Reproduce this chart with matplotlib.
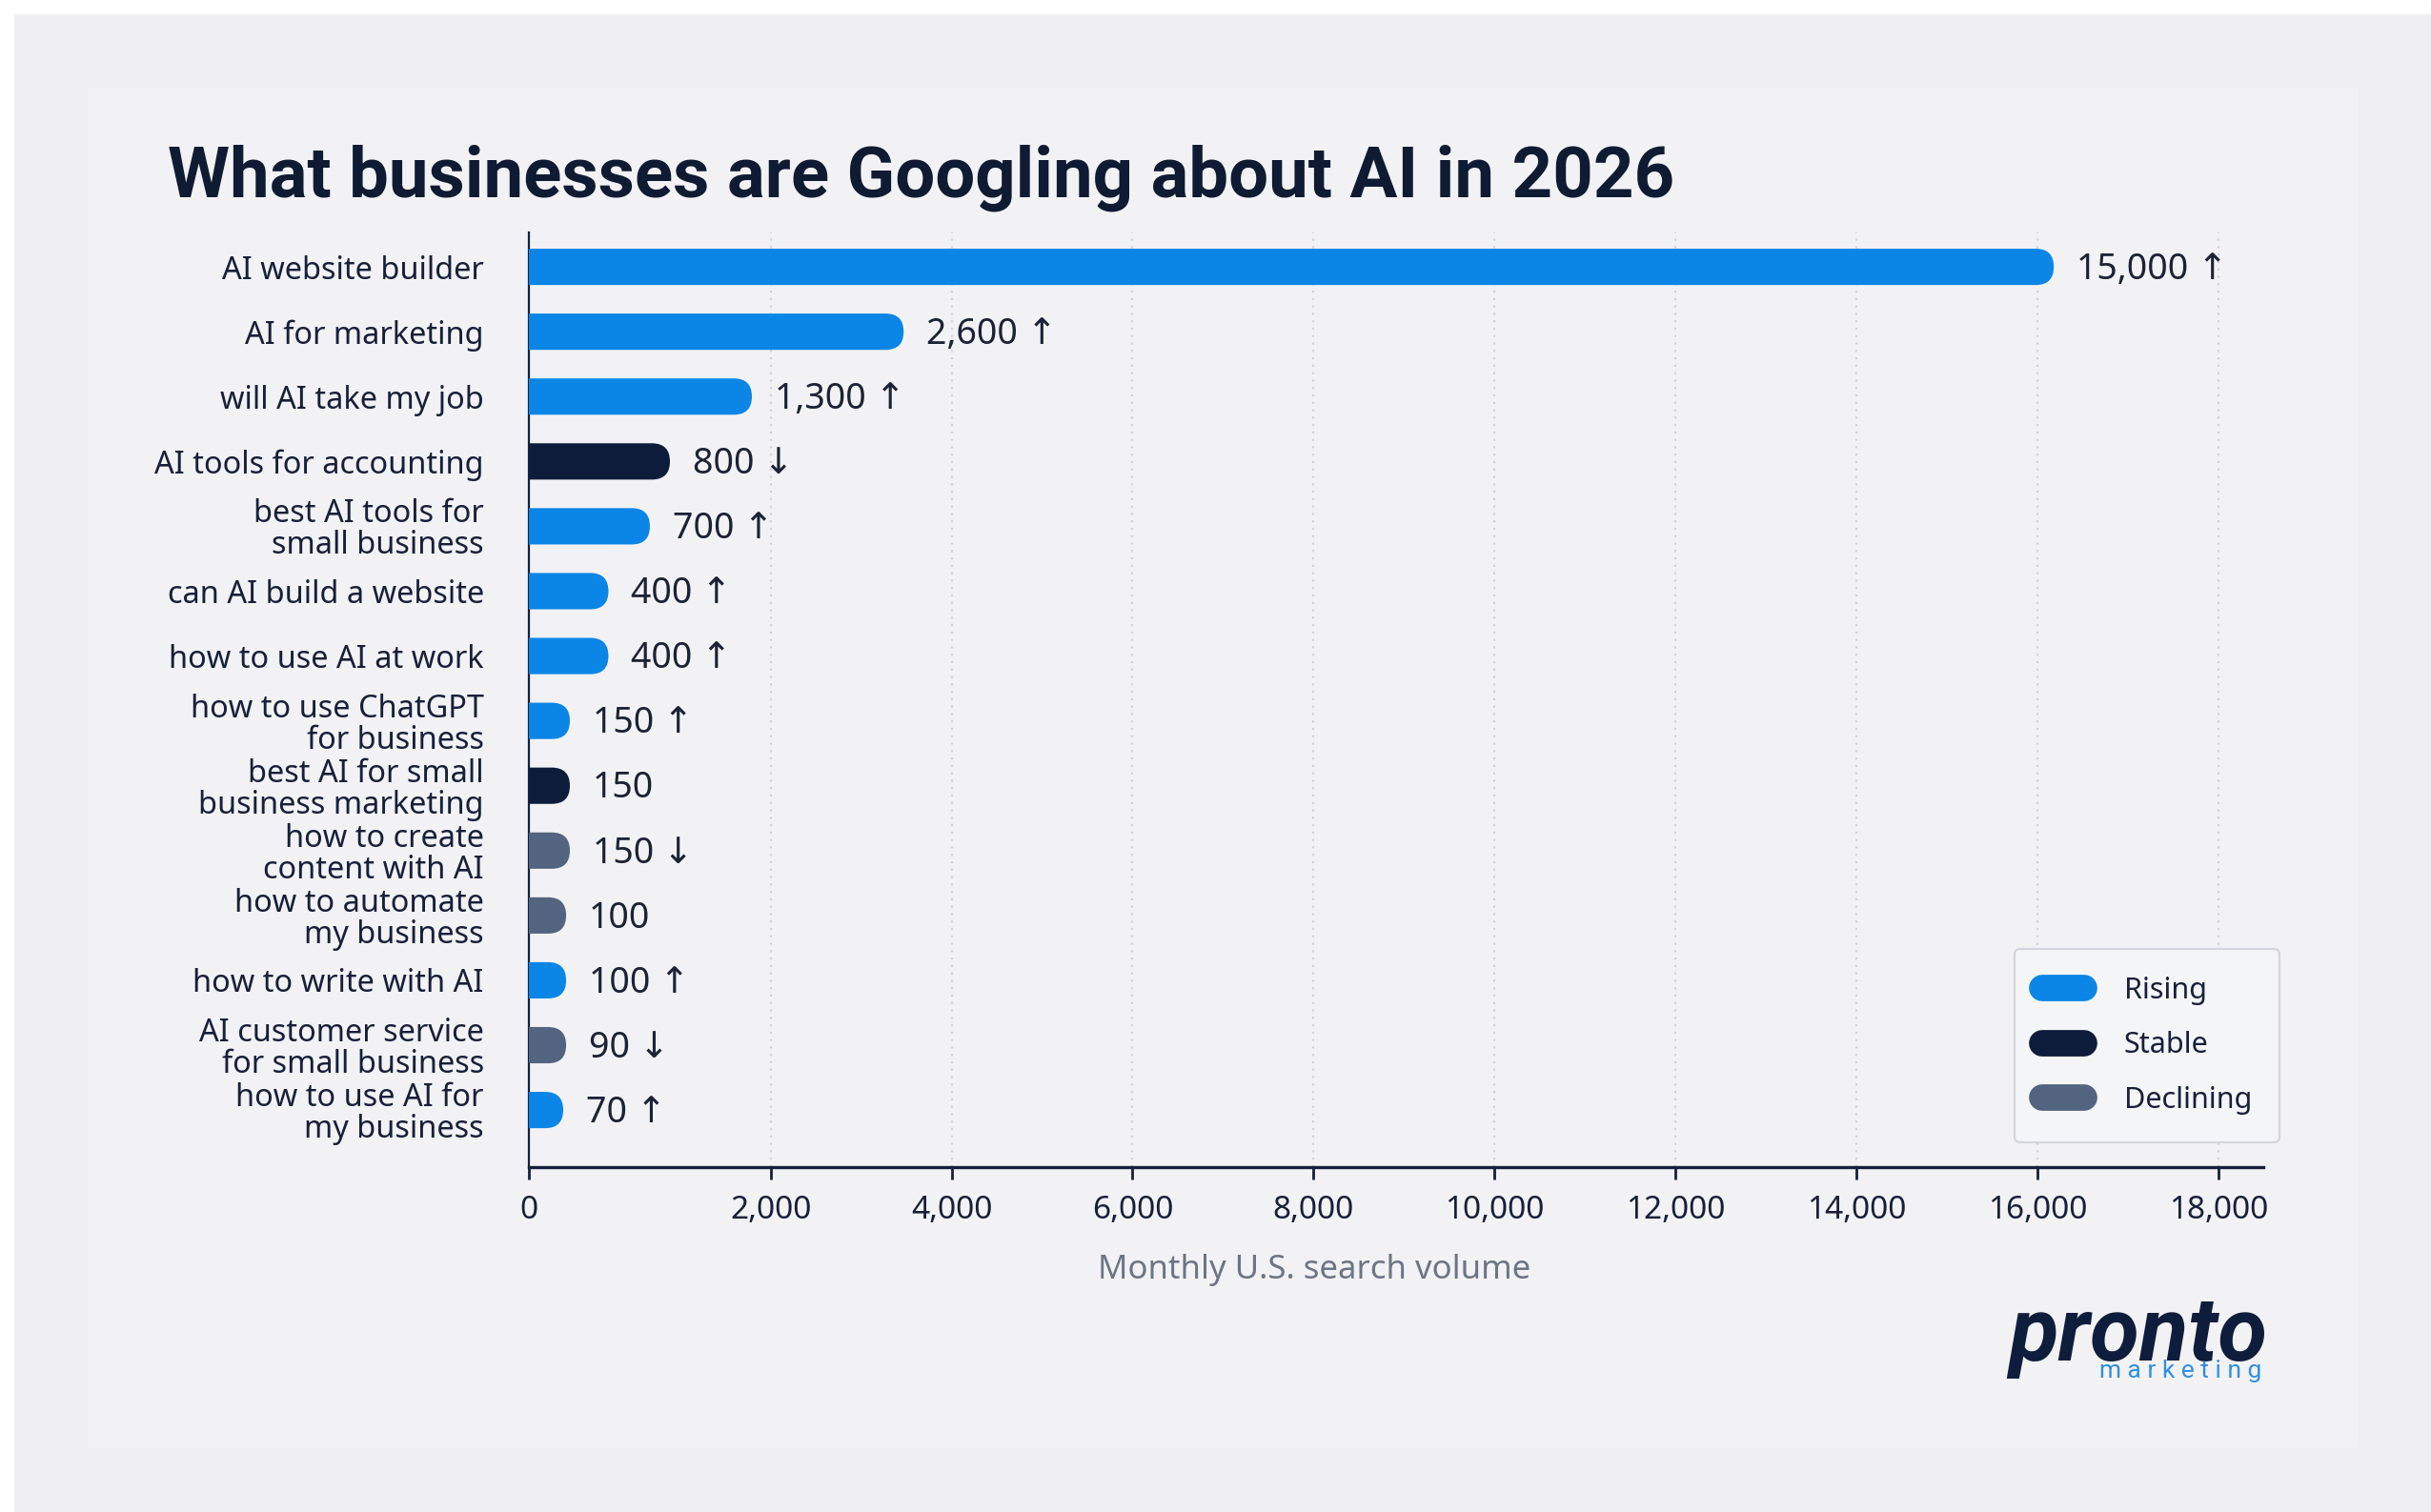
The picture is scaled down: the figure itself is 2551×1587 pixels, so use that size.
import numpy as np
import matplotlib.pyplot as plt
from matplotlib.patches import FancyBboxPatch, Rectangle
from matplotlib.lines import Line2D
from matplotlib.ticker import FuncFormatter

plt.rcParams['font.family'] = ['Noto Sans', 'DejaVu Sans']

# data
queries = ["AI website builder", "AI for marketing", "will AI take my job",
           "AI tools for accounting", "best AI tools for\nsmall business",
           "can AI build a website", "how to use AI at work",
           "how to use ChatGPT\nfor business", "best AI for small\nbusiness marketing",
           "how to create\ncontent with AI", "how to automate\nmy business",
           "how to write with AI", "AI customer service\nfor small business",
           "how to use AI for\nmy business"]
volume = [15000, 2600, 1300, 800, 700, 400, 400, 150, 150, 150, 100, 100, 90, 70]
# bar extents as drawn on the picture's axis (not to scale with the labels)
bar_end = [16180, 3470, 1845, 1167, 1001, 658, 658, 339, 339, 339, 308, 308, 308, 284]
status = ["Rising", "Rising", "Rising", "Stable", "Rising", "Rising", "Rising",
          "Rising", "Stable", "Declining", "Declining", "Rising", "Declining", "Rising"]
arrow = ["up", "up", "up", "down", "up", "up", "up", "up", "", "down", "", "up", "down", "up"]

colors = {"Rising": "#0b86e6", "Stable": "#0e1c3c", "Declining": "#52647f"}
navy = "#16203a"

# the picture's x axis: first 2,000 is stretched compared to the rest
K = 1.3355
def fwd(v):
    v = np.asarray(v, dtype=float)
    return np.where(v <= 2000, v * K, 2000 * K + (v - 2000))
def inv(u):
    u = np.asarray(u, dtype=float)
    return np.where(u <= 2000 * K, u / K, u - 2000 * K + 2000)

W, H, dpi = 2551, 1587, 200
fig = plt.figure(figsize=(W / dpi, H / dpi), dpi=dpi, facecolor="white")

# background panels
fig.patches.append(Rectangle((16 / W, 0), 1, 1 - 16 / H, transform=fig.transFigure,
                             color="#efeff1", zorder=-10))
fig.patches.append(Rectangle((93 / W, 1 - 1518 / H), (2473 - 93) / W, (1518 - 93) / H,
                             transform=fig.transFigure, color="#f2f2f4", zorder=-9))

ax = fig.add_axes([555 / W, 1 - 1225 / H, (2375 - 555) / W, (1225 - 244) / H])
ax.set_facecolor("none")
ax.set_xscale("function", functions=(fwd, inv))
xmax = 18495
ax.set_xlim(0, xmax)
ax.set_ylim(13.88, -0.53)

# rounded bars
h = 0.56
ax_w = 2375 - 555
ax_h = 1225 - 244
px_u = ax_w / float(fwd(xmax))
px_y = ax_h / (13.88 + 0.53)
rad_px = h / 2 * px_y
for i in range(len(queries)):
    px_x = px_u * (K if bar_end[i] <= 2000 else 1.0)
    r = rad_px / px_x
    p = FancyBboxPatch((-r, i - h / 2), bar_end[i] + r, h,
                       boxstyle=f"round,pad=0,rounding_size={r}",
                       mutation_aspect=h / (2 * r),
                       fc=colors[status[i]], ec="none", zorder=3)
    ax.add_patch(p)
    txt = f"{volume[i]:,}"
    if arrow[i] == "up":
        txt += " \u2191"
    elif arrow[i] == "down":
        txt += " \u2193"
    ax.annotate(txt, (bar_end[i], i), xytext=(8.6, -1.0), textcoords="offset points",
                va="center", ha="left", fontsize=13.5, color="#1a2236")

ax.set_yticks(range(len(queries)))
ax.set_yticklabels(queries, linespacing=1.0)
ax.set_xticks(range(0, 18001, 2000))
ax.xaxis.set_major_formatter(FuncFormatter(lambda v, p: f"{int(round(v)):,}"))
ax.xaxis.set_minor_locator(plt.NullLocator())
ax.grid(axis="x", linestyle=(0, (1, 2.5)), color="#cfd3da", lw=0.8)
ax.set_axisbelow(True)

ax.tick_params(axis="x", length=4.5, width=1, color=navy, pad=6, labelsize=12, labelcolor=navy)
ax.tick_params(axis="y", length=0, pad=17, labelsize=11.7, labelcolor=navy)
for s in ["top", "right"]:
    ax.spines[s].set_visible(False)
ax.spines["left"].set_color(navy)
ax.spines["left"].set_linewidth(0.8)
ax.spines["bottom"].set_color(navy)
ax.spines["bottom"].set_linewidth(1.2)

ax.set_xlabel("Monthly U.S. search volume", fontsize=12.5, color="#6b7586")
ax.xaxis.label.set_va("center")
ax.xaxis.set_label_coords(0.453, -0.110)

fig.text(176 / W, 1 - 207 / H, "What businesses are Googling about AI in 2026",
         fontsize=26.8, fontweight="bold", family="Roboto", color="#0f1b33", va="baseline")

handles = [Line2D([0], [0], color=colors[k], lw=10, solid_capstyle="round")
           for k in ["Rising", "Stable", "Declining"]]
leg = fig.legend(handles, ["Rising", "Stable", "Declining"], loc="lower right",
                 bbox_to_anchor=(2392 / W, 1 - 1199 / H), borderaxespad=0,
                 frameon=True, fancybox=True,
                 facecolor="#f4f5f7", edgecolor="#d3d6dc", framealpha=1, fontsize=11,
                 handlelength=1.45, handletextpad=1.35, borderpad=0.95, labelspacing=0.9,
                 labelcolor=navy)
leg.get_frame().set_linewidth(0.8)

# logo
fig.text(2108 / W, 1 - 1428 / H, "pronto", fontsize=34, fontweight="bold", style="italic",
         family="Roboto", color="#0f1d3d", va="baseline")
fig.text(2203 / W, 1 - 1427 / H, "m a r k e t i n g", fontsize=9.5, family="Roboto",
         color="#2f8fe3", va="top")

fig.savefig("out.png", dpi=dpi, facecolor=fig.get_facecolor())
